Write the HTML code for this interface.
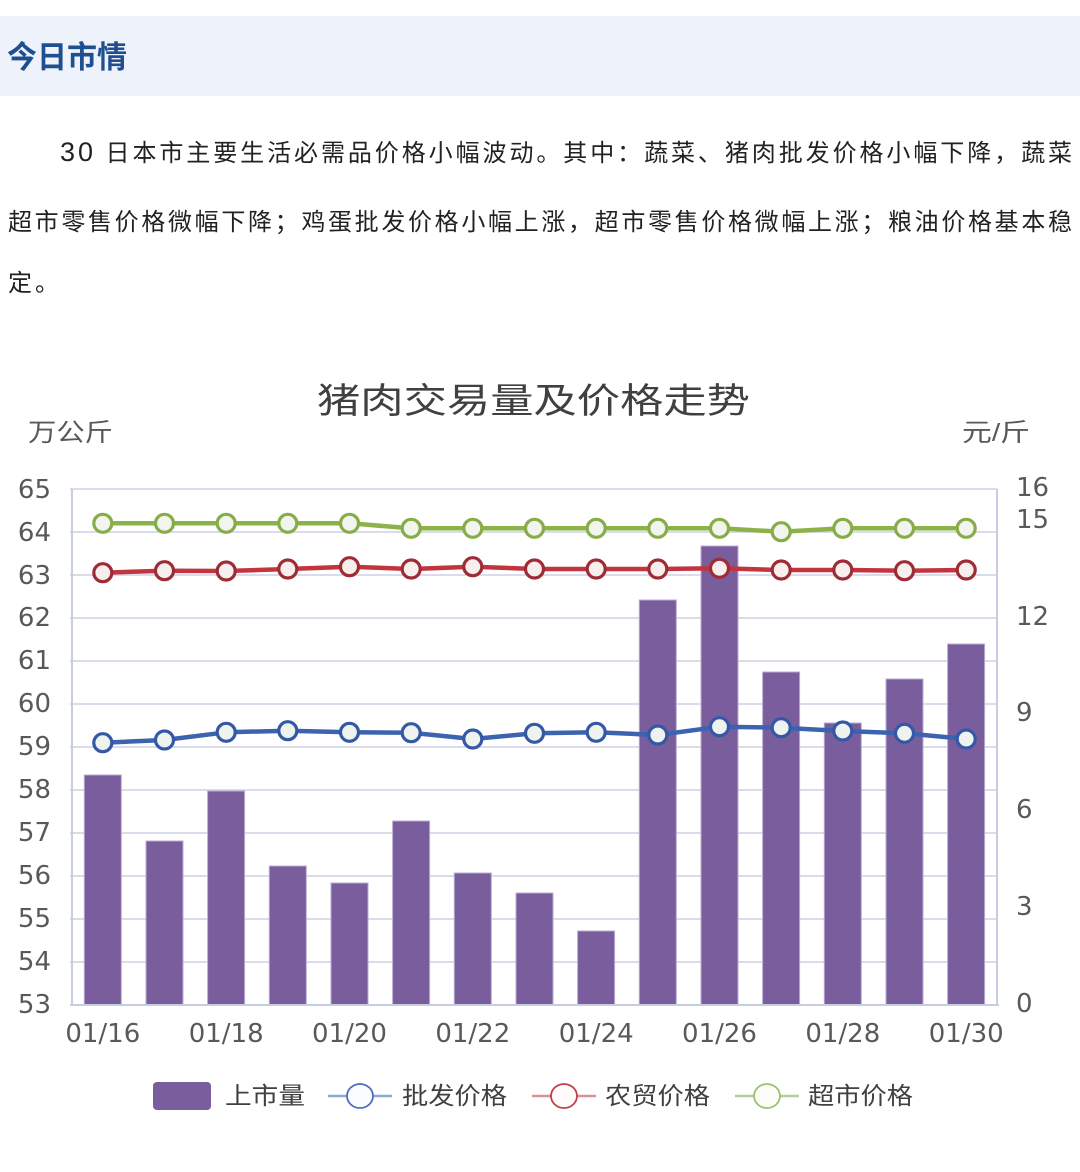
<!DOCTYPE html>
<html><head><meta charset="utf-8"><style>
html,body{margin:0;padding:0;background:#fff;}
svg{display:block;}
</style></head><body>
<svg width="1080" height="1172" viewBox="0 0 1080 1172" xmlns="http://www.w3.org/2000/svg">
<rect x="0" y="0" width="1080" height="1172" fill="#fff"/>
<rect x="0" y="16" width="1080" height="80" fill="#eef2fa"/>
<text x="7" y="68" font-family="'Liberation Sans','Noto Sans CJK SC',sans-serif" font-size="31" font-weight="bold" fill="#1d4f91" textLength="120" lengthAdjust="spacingAndGlyphs">今日市情</text>
<g font-family="'Liberation Sans','Noto Sans CJK SC',sans-serif" font-size="24" fill="#222">
<text x="60" y="161" textLength="1012" lengthAdjust="spacing"><tspan font-size="27">30</tspan> 日本市主要生活必需品价格小幅波动。其中：蔬菜、猪肉批发价格小幅下降，蔬菜</text>
<text x="8" y="230" textLength="1064" lengthAdjust="spacing">超市零售价格微幅下降；鸡蛋批发价格小幅上涨，超市零售价格微幅上涨；粮油价格基本稳</text>
<text x="8" y="291" letter-spacing="3">定。</text>
</g>
<text x="317" y="413" font-family="'Liberation Sans','Noto Sans CJK SC',sans-serif" font-size="35" fill="#404040" textLength="433" lengthAdjust="spacingAndGlyphs">猪肉交易量及价格走势</text>
<g font-family="'Liberation Sans','Noto Sans CJK SC',sans-serif" font-size="25" fill="#595959">
<text x="28" y="441" textLength="85" lengthAdjust="spacingAndGlyphs">万公斤</text>
<text x="962" y="441" textLength="68" lengthAdjust="spacingAndGlyphs">元/斤</text>
</g>
<g stroke="#cdd1e6" stroke-width="1.5">
<line x1="70" y1="489" x2="997" y2="489"/>
<line x1="70" y1="532" x2="997" y2="532"/>
<line x1="70" y1="575" x2="997" y2="575"/>
<line x1="70" y1="618" x2="997" y2="618"/>
<line x1="70" y1="661" x2="997" y2="661"/>
<line x1="70" y1="704" x2="997" y2="704"/>
<line x1="70" y1="747" x2="997" y2="747"/>
<line x1="70" y1="790" x2="997" y2="790"/>
<line x1="70" y1="833" x2="997" y2="833"/>
<line x1="70" y1="876" x2="997" y2="876"/>
<line x1="70" y1="919" x2="997" y2="919"/>
<line x1="70" y1="962" x2="997" y2="962"/>
</g>
<g fill="#795d9c" stroke="#b8acd2" stroke-width="1">
<rect x="84.3" y="775" width="37" height="230"/>
<rect x="146" y="841" width="37" height="164"/>
<rect x="207.6" y="791" width="37" height="214"/>
<rect x="269.3" y="866" width="37" height="139"/>
<rect x="331" y="883" width="37" height="122"/>
<rect x="392.6" y="821" width="37" height="184"/>
<rect x="454.3" y="873" width="37" height="132"/>
<rect x="516" y="893" width="37" height="112"/>
<rect x="577.6" y="931" width="37" height="74"/>
<rect x="639.3" y="600" width="37" height="405"/>
<rect x="701" y="546" width="37" height="459"/>
<rect x="762.6" y="672" width="37" height="333"/>
<rect x="824.3" y="723" width="37" height="282"/>
<rect x="886" y="679" width="37" height="326"/>
<rect x="947.6" y="644" width="37" height="361"/>
</g>
<g stroke="#c6cde2" stroke-width="2" fill="none">
<line x1="72" y1="489" x2="72" y2="1006"/>
<line x1="997" y1="489" x2="997" y2="1006"/>
<line x1="70" y1="1005" x2="999" y2="1005"/>
</g>
<g fill="none" stroke-width="4.5" stroke-linejoin="round">
<polyline stroke="#8cb34a" points="102.8,523.3 164.5,523.3 226.2,523.3 287.8,523.3 349.5,523.3 411.2,528.3 472.8,528.3 534.5,528.3 596.2,528.3 657.8,528.3 719.5,528.3 781.2,531.7 842.8,528.3 904.5,528.3 966.2,528.3"/>
<polyline stroke="#c2343e" points="102.8,572.7 164.5,570.7 226.2,571 287.8,569 349.5,566.7 411.2,569 472.8,566.7 534.5,569 596.2,569 657.8,569 719.5,568.3 781.2,570 842.8,570 904.5,570.7 966.2,570"/>
<polyline stroke="#3b63b0" points="102.8,742.7 164.5,740 226.2,732.3 287.8,730.7 349.5,732.3 411.2,732.7 472.8,739 534.5,733.3 596.2,732.3 657.8,735 719.5,726.7 781.2,727.7 842.8,731 904.5,733.3 966.2,739"/>
</g>
<g fill="#f2f5ee" stroke="#86ad48" stroke-width="3.2">
<circle cx="102.8" cy="523.3" r="9"/><circle cx="164.5" cy="523.3" r="9"/><circle cx="226.2" cy="523.3" r="9"/><circle cx="287.8" cy="523.3" r="9"/><circle cx="349.5" cy="523.3" r="9"/><circle cx="411.2" cy="528.3" r="9"/><circle cx="472.8" cy="528.3" r="9"/><circle cx="534.5" cy="528.3" r="9"/><circle cx="596.2" cy="528.3" r="9"/><circle cx="657.8" cy="528.3" r="9"/><circle cx="719.5" cy="528.3" r="9"/><circle cx="781.2" cy="531.7" r="9"/><circle cx="842.8" cy="528.3" r="9"/><circle cx="904.5" cy="528.3" r="9"/><circle cx="966.2" cy="528.3" r="9"/>
</g>
<g fill="#f7efee" stroke="#9e2c37" stroke-width="3.2">
<circle cx="102.8" cy="572.7" r="9"/><circle cx="164.5" cy="570.7" r="9"/><circle cx="226.2" cy="571" r="9"/><circle cx="287.8" cy="569" r="9"/><circle cx="349.5" cy="566.7" r="9"/><circle cx="411.2" cy="569" r="9"/><circle cx="472.8" cy="566.7" r="9"/><circle cx="534.5" cy="569" r="9"/><circle cx="596.2" cy="569" r="9"/><circle cx="657.8" cy="569" r="9"/><circle cx="719.5" cy="568.3" r="9"/><circle cx="781.2" cy="570" r="9"/><circle cx="842.8" cy="570" r="9"/><circle cx="904.5" cy="570.7" r="9"/><circle cx="966.2" cy="570" r="9"/>
</g>
<g fill="#eef3f0" stroke="#3558a6" stroke-width="3.2">
<circle cx="102.8" cy="742.7" r="9"/><circle cx="164.5" cy="740" r="9"/><circle cx="226.2" cy="732.3" r="9"/><circle cx="287.8" cy="730.7" r="9"/><circle cx="349.5" cy="732.3" r="9"/><circle cx="411.2" cy="732.7" r="9"/><circle cx="472.8" cy="739" r="9"/><circle cx="534.5" cy="733.3" r="9"/><circle cx="596.2" cy="732.3" r="9"/><circle cx="657.8" cy="735" r="9"/><circle cx="719.5" cy="726.7" r="9"/><circle cx="781.2" cy="727.7" r="9"/><circle cx="842.8" cy="731" r="9"/><circle cx="904.5" cy="733.3" r="9"/><circle cx="966.2" cy="739" r="9"/>
</g>
<g font-family="'DejaVu Sans',sans-serif" font-size="26" fill="#595959" text-anchor="end">
<text x="51" y="498">65</text>
<text x="51" y="541">64</text>
<text x="51" y="584">63</text>
<text x="51" y="626">62</text>
<text x="51" y="669">61</text>
<text x="51" y="712">60</text>
<text x="51" y="755">59</text>
<text x="51" y="798">58</text>
<text x="51" y="841">57</text>
<text x="51" y="884">56</text>
<text x="51" y="927">55</text>
<text x="51" y="970">54</text>
<text x="51" y="1013">53</text>
</g>
<g font-family="'DejaVu Sans',sans-serif" font-size="26" fill="#595959">
<text x="1016" y="496">16</text>
<text x="1016" y="528">15</text>
<text x="1016" y="625">12</text>
<text x="1016" y="721">9</text>
<text x="1016" y="818">6</text>
<text x="1016" y="915">3</text>
<text x="1016" y="1012">0</text>
</g>
<g font-family="'DejaVu Sans',sans-serif" font-size="26" fill="#595959" text-anchor="middle">
<text x="102.8" y="1042">01/16</text>
<text x="226.2" y="1042">01/18</text>
<text x="349.5" y="1042">01/20</text>
<text x="472.8" y="1042">01/22</text>
<text x="596.2" y="1042">01/24</text>
<text x="719.5" y="1042">01/26</text>
<text x="842.8" y="1042">01/28</text>
<text x="966.2" y="1042">01/30</text>
</g>
<rect x="153" y="1082" width="58" height="28" rx="4" fill="#795d9c"/>
<g stroke-width="2.5">
<line x1="328" y1="1096" x2="392" y2="1096" stroke="#8fa8d6"/>
<ellipse cx="360" cy="1096" rx="13" ry="12" fill="#fbfcff" stroke="#4a6fb8" stroke-width="1.8"/>
<line x1="532" y1="1096" x2="596" y2="1096" stroke="#d99197"/>
<ellipse cx="564" cy="1096" rx="13" ry="12" fill="#fffbfb" stroke="#c0404a" stroke-width="1.8"/>
<line x1="735" y1="1096" x2="799" y2="1096" stroke="#b6cf98"/>
<ellipse cx="767" cy="1096" rx="13" ry="12" fill="#fcfdf9" stroke="#9cc071" stroke-width="1.8"/>
</g>
<g font-family="'Liberation Sans','Noto Sans CJK SC',sans-serif" font-size="24" fill="#404040">
<text x="225" y="1104" textLength="80" lengthAdjust="spacingAndGlyphs">上市量</text>
<text x="402" y="1104" textLength="105" lengthAdjust="spacingAndGlyphs">批发价格</text>
<text x="605" y="1104" textLength="105" lengthAdjust="spacingAndGlyphs">农贸价格</text>
<text x="808" y="1104" textLength="105" lengthAdjust="spacingAndGlyphs">超市价格</text>
</g>
</svg>
</body></html>
